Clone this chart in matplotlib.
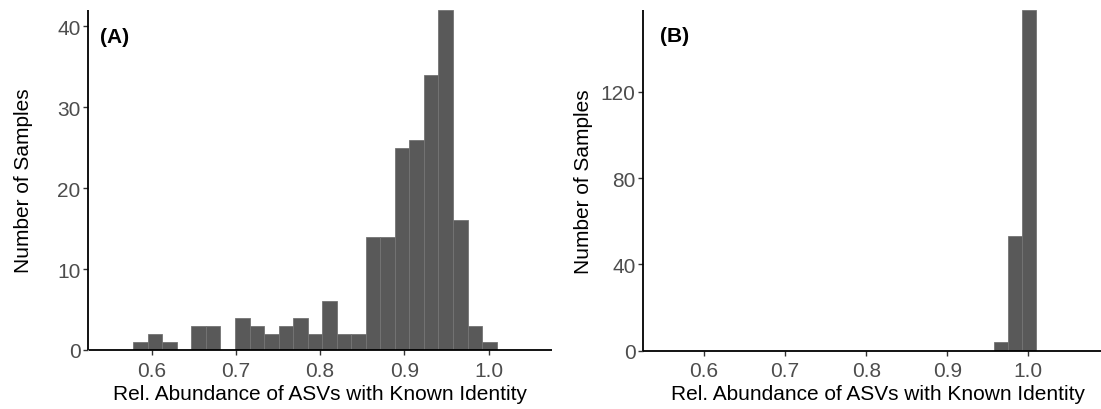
import numpy as np
import matplotlib
matplotlib.use("Agg")
import matplotlib.pyplot as plt

plt.rcParams["font.family"] = ["Liberation Sans", "DejaVu Sans"]

# Histogram bins shared by both panels
bin_start = 0.5781
bin_width = 0.01726
n_bins = 25

# Sample counts per bin
counts_a = [1, 2, 1, 0, 3, 3, 0, 4, 3, 2, 3, 4, 2, 6, 2, 2,
            14, 14, 25, 26, 34, 42, 16, 3, 1]
counts_b = [0, 0, 0, 0, 0, 0, 0, 0, 0, 0, 0, 0, 0, 0, 0, 0,
            0, 0, 0, 0, 0, 0, 4, 53, 158]

x_ticks = [0.6, 0.7, 0.8, 0.9, 1.0]
y_ticks_a = [0, 10, 20, 30, 40]
y_ticks_b = [0, 40, 80, 120]

xlabel = "Rel. Abundance of ASVs with Known Identity"
ylabel = "Number of Samples"

edges = bin_start + bin_width * np.arange(n_bins + 1)
centers = (edges[:-1] + edges[1:]) / 2

W, H = 1101, 410
fig = plt.figure(figsize=(W / 100, H / 100), dpi=100)


def px_axes(left, right, top, bottom):
    return fig.add_axes([left / W, (H - bottom) / H, (right - left) / W, (bottom - top) / H])


ax_a = px_axes(88.5, 551.7, 11, 351)
ax_b = px_axes(643.3, 1101, 11, 351.7)

bar_color = "#595959"
edge_color = "#747474"

panels = [
    (ax_a, counts_a, (0.525, 1.075), (0, 42), y_ticks_a, "(A)", (0.025, 0.9235), -0.1198, 0.5),
    (ax_b, counts_b, (0.525, 1.0897), (0, 158), y_ticks_b, "(B)", (0.0365, 0.9266), -0.109, 0.5128),
]

for ax, counts, xlim, ylim, yt, tag, tag_pos, ylab_x, xlab_x in panels:
    ax.hist(centers, bins=edges, weights=counts, color=bar_color,
            edgecolor=edge_color, linewidth=0.6)
    ax.set_xlim(*xlim)
    ax.set_ylim(*ylim)
    ax.set_xticks(x_ticks)
    ax.set_xticklabels([f"{t:.1f}" for t in x_ticks])
    ax.set_yticks(yt)
    for s in ("top", "right"):
        ax.spines[s].set_visible(False)
    for s in ("left", "bottom"):
        ax.spines[s].set_linewidth(1.3)
        ax.spines[s].set_color("black")
        ax.spines[s].set_capstyle("butt")
    ax.tick_params(axis="both", length=3.6, width=1.0, color="#333333",
                   labelcolor="#4d4d4d", labelsize=15, pad=2)
    ax.tick_params(axis="x", pad=4)
    ax.set_xlabel(xlabel, fontsize=15, color="black", labelpad=3)
    ax.xaxis.label.set_x(xlab_x)
    ax.set_ylabel(ylabel, fontsize=15, color="black")
    ax.yaxis.set_label_coords(ylab_x, 0.5)
    ax.text(tag_pos[0], tag_pos[1], tag, transform=ax.transAxes,
            fontsize=15, fontweight="bold", ha="left", va="center")

fig.savefig("out.png", dpi=100)
